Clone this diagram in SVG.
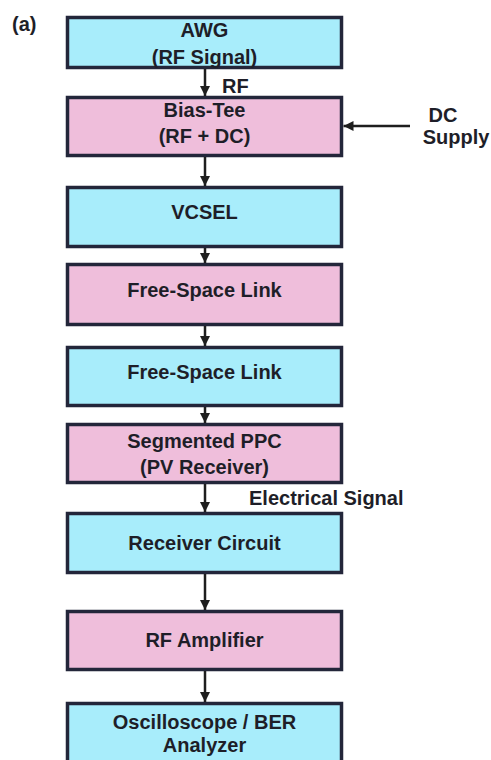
<svg xmlns="http://www.w3.org/2000/svg" width="491" height="760" viewBox="0 0 491 760">
<defs>
<style>
.box{stroke:#23263a;stroke-width:3.5}
.blue{fill:#a8edfb}
.pink{fill:#efbedb}
text{font-family:"Liberation Sans",Arial,sans-serif;font-weight:bold;font-size:20px;fill:#1e1e28}
.c{text-anchor:middle}
.conn{stroke:#1e1e1e;stroke-width:2.5;fill:none;marker-end:url(#ah)}
</style>
<marker id="ah" viewBox="0 0 10 10" refX="10" refY="5" markerWidth="4" markerHeight="4" orient="auto" markerUnits="strokeWidth">
<path d="M0,0 L10,5 L0,10 z" fill="#1e1e1e"/>
</marker>
</defs>
<rect width="491" height="760" fill="#ffffff"/>
<text x="12" y="31" font-size="18">(a)</text>
<g id="awg"><rect class="box blue" x="67.5" y="17.5" width="274" height="50"/><text class="c" x="204.5" y="37">AWG</text><text class="c" x="204.5" y="64">(RF Signal)</text></g>
<g id="biastee"><rect class="box pink" x="67.5" y="97.5" width="274" height="58"/><text class="c" x="204.5" y="117">Bias-Tee</text><text class="c" x="204.5" y="143">(RF + DC)</text></g>
<g id="vcsel"><rect class="box blue" x="67.5" y="187.5" width="274" height="59"/><text class="c" x="204.5" y="219">VCSEL</text></g>
<g id="fsl1"><rect class="box pink" x="67.5" y="264.5" width="274" height="60"/><text class="c" x="204.5" y="297">Free-Space Link</text></g>
<g id="fsl2"><rect class="box blue" x="67.5" y="347.5" width="274" height="58"/><text class="c" x="204.5" y="379">Free-Space Link</text></g>
<g id="ppc"><rect class="box pink" x="67.5" y="424.5" width="274" height="58"/><text class="c" x="204.5" y="448">Segmented PPC</text><text class="c" x="204.5" y="474">(PV Receiver)</text></g>
<g id="rx"><rect class="box blue" x="67.5" y="513.5" width="274" height="59"/><text class="c" x="204.5" y="550">Receiver Circuit</text></g>
<g id="amp"><rect class="box pink" x="67.5" y="611.5" width="274" height="58"/><text class="c" x="204.5" y="647">RF Amplifier</text></g>
<g id="osc"><rect class="box blue" x="67.5" y="703.5" width="274" height="70"/><text class="c" x="204.5" y="729">Oscilloscope / BER</text><text class="c" x="204.5" y="752">Analyzer</text></g>
<g id="dc"><text class="c" x="443" y="122">DC</text><text class="c" x="456" y="144">Supply</text></g>
<g id="connectors">
<line class="conn" x1="205" y1="69" x2="205" y2="96"/>
<line class="conn" x1="205" y1="157" x2="205" y2="186"/>
<line class="conn" x1="205" y1="248" x2="205" y2="263"/>
<line class="conn" x1="205" y1="326" x2="205" y2="346"/>
<line class="conn" x1="205" y1="407" x2="205" y2="423"/>
<line class="conn" x1="205" y1="484" x2="205" y2="512"/>
<line class="conn" x1="205" y1="574" x2="205" y2="610"/>
<line class="conn" x1="205" y1="671" x2="205" y2="702"/>
<line class="conn" x1="410" y1="126" x2="343.5" y2="126"/>
<text x="222" y="93">RF</text>
<text x="249" y="505">Electrical Signal</text>
</g>
</svg>
